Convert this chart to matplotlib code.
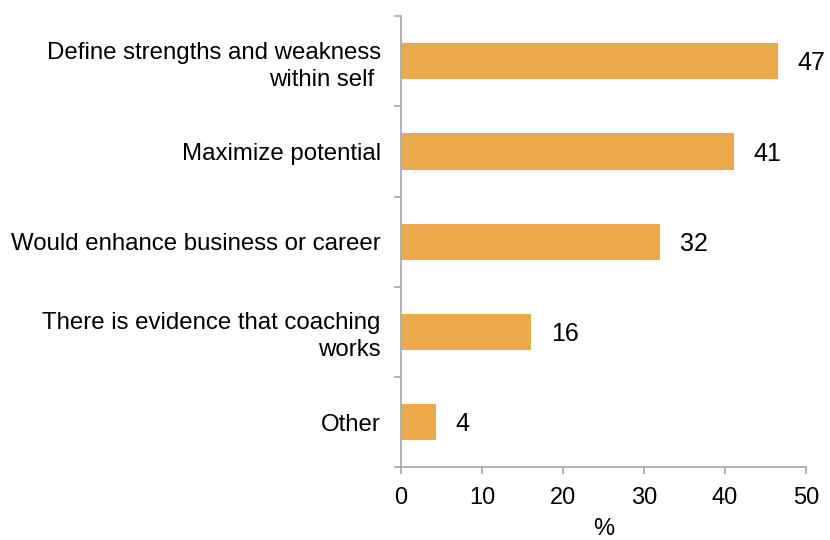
import matplotlib
matplotlib.use('Agg')
import matplotlib.pyplot as plt
import numpy as np

plt.rcParams['font.family'] = ['Liberation Sans', 'DejaVu Sans']

# reasons, top to bottom as in the chart
categories = ['Define strengths and weakness\nwithin self ',
              'Maximize potential',
              'Would enhance business or career',
              'There is evidence that coaching\nworks',
              'Other']
values = [46.6, 41.1, 32.0, 16.1, 4.3]
labels = ['47', '41', '32', '16', '4']

bar_color = '#EBA94A'
axis_color = '#A6A6A6'

fig = plt.figure(figsize=(8.3, 5.4), dpi=100)
ax = fig.add_axes([0.483, 0.135, 0.488, 0.835])

y = np.arange(len(categories))
bars = ax.barh(y, values, height=0.4, color=bar_color)
ax.set_ylim(len(categories) - 0.5, -0.5)
ax.set_xlim(0, 50)
ax.set_xticks(np.arange(0, 51, 10))

# category boundaries get the tick marks, names sit between them
ax.set_yticks(np.arange(-0.5, len(categories), 1))
ax.set_yticklabels([])
ax.set_yticks(y, minor=True)
ax.set_yticklabels(categories, minor=True, fontsize=17.3, linespacing=1.3)
ax.tick_params(axis='y', which='minor', length=0, pad=14.5)
ax.tick_params(axis='y', which='major', length=5, color=axis_color, width=1.2)
ax.tick_params(axis='x', length=5, color=axis_color, width=1.2, labelsize=17, pad=9)

for s in ['top', 'right']:
    ax.spines[s].set_visible(False)
for s in ['left', 'bottom']:
    ax.spines[s].set_color(axis_color)
    ax.spines[s].set_linewidth(1.2)

for b, lab in zip(bars, labels):
    ax.annotate(lab, (b.get_width(), b.get_y() + b.get_height() / 2),
                xytext=(14, -1.5), textcoords='offset points',
                va='center', ha='left', fontsize=18)

ax.set_xlabel('%', fontsize=17, labelpad=7)

fig.savefig('out.png', dpi=100)
